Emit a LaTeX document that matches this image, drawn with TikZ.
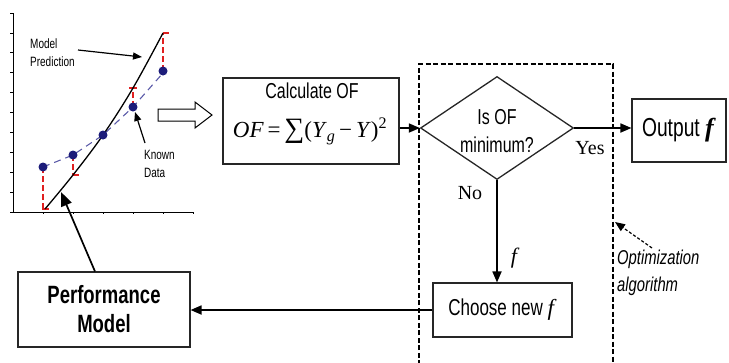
\documentclass[tikz,border=0pt]{standalone}
\usepackage{fontspec}
\setmainfont{Liberation Serif}
\newfontfamily\nsans[FakeStretch=0.74]{Liberation Sans}
\usetikzlibrary{arrows.meta,shapes.geometric}
\definecolor{dotblue}{HTML}{1C1C7A}
\definecolor{dashblue}{HTML}{5A5AA8}
\definecolor{redm}{HTML}{E02020}
\tikzset{
  boxnode/.style={draw=black!85,line width=1.1pt,inner sep=0pt,fill=white},
  conn/.style={line width=1.7pt,-{Triangle[length=11pt,width=9pt]}},
  thinarrow/.style={line width=1.2pt,-{Triangle[length=9pt,width=7pt]}},
  sanslbl/.style={font=\nsans\fontsize{21.6}{24}\selectfont,inner sep=0pt},
  smalllbl/.style={font=\nsans\fontsize{13.5}{15}\selectfont,inner sep=0pt,anchor=west},
  seriflbl/.style={font=\fontsize{20}{22}\selectfont,inner sep=0pt},
  datadot/.style={circle,fill=dotblue,inner sep=0pt,minimum size=9pt},
}
\begin{document}
\begin{tikzpicture}[x=1pt,y=-1pt]
\useasboundingbox (0,0) rectangle (729,362);
% ---------- plot ----------
\draw[line width=1pt] (13,13) -- (13,212) -- (193,212);
\foreach \yy in {13,32.9,...,212} \draw[line width=0.8pt] (10,\yy) -- (13,\yy);
\foreach \xx in {43,73,...,193} \draw[line width=0.8pt] (\xx,212) -- (\xx,214);
% red residuals
\draw[redm,line width=1.2pt,dash pattern=on 6pt off 3pt] (43,167) -- (43,209);
\draw[redm,line width=1.2pt] (42,209) -- (49,209);
\draw[redm,line width=1.2pt,dash pattern=on 6pt off 3pt] (73,155) -- (73,175);
\draw[redm,line width=1.2pt] (73,175) -- (79,175);
\draw[redm,line width=1.2pt,dash pattern=on 6pt off 3pt] (133,107) -- (133,88);
\draw[redm,line width=1.2pt] (129,88) -- (137,88);
\draw[redm,line width=1.2pt,dash pattern=on 6pt off 3pt] (163,71) -- (163,33);
\draw[redm,line width=1.2pt] (163,33) -- (169,33);
% known data dashed line
\draw[dashblue,line width=1.1pt,dash pattern=on 7pt off 5pt] (43,167) -- (73,155) -- (103,135) -- (133,107) -- (163,73);
% model curve
\draw[line width=1.3pt] plot[smooth,tension=0.6] coordinates {(45,209) (73,175) (103,135) (133,88) (163,33)};
% data dots
\foreach \px/\py in {43/167,73/155,103/135,133/107,163/71}
  \node[datadot] at (\px,\py) {};
% labels in plot
\node[smalllbl] (mp1) at (30,44) {Model};
\node[smalllbl] (mp2) at (30,62) {Prediction};
\coordinate (mpt) at (142,57);
\draw[thinarrow] (78,50) -- (mpt);
\node[smalllbl] (kd1) at (144,155) {Known};
\node[smalllbl] (kd2) at (144,173) {Data};
\coordinate (kdt) at (135,112);
\draw[thinarrow] (145,143) -- (kdt);
% hollow arrow
\draw[line width=1pt,fill=white] (158,109) -- (195,109) -- (195,102) -- (212,115) -- (195,128) -- (195,121) -- (158,121) -- cycle;
% ---------- flow ----------
\node[boxnode,minimum width=176pt,minimum height=86pt] (calc) at (311,121) {};
\node[sanslbl] at (312,91) {Calculate OF};
\node[inner sep=0pt,font=\fontsize{23}{27}\selectfont] at (310,131)
  {\textit{OF}\,=\,{\fontsize{28}{28}\selectfont ∑}(\textit{Y}\textsubscript{\textit{g}}\,−\,\textit{Y})\textsuperscript{2}};
\node[diamond,draw=black!85,line width=1.3pt,inner sep=0pt,minimum width=153pt,minimum height=103pt] (dia) at (497,128) {};
\node[sanslbl] at (497,117) {Is OF};
\node[sanslbl] at (497,145) {minimum?};
\node[boxnode,minimum width=94pt,minimum height=63pt,font=\nsans\fontsize{26}{28}\selectfont] (out) at (679,130.5) {Output \textbf{\textit{\rmfamily f}}};
\node[boxnode,minimum width=139pt,minimum height=54pt,font=\nsans\fontsize{23}{25}\selectfont] (choose) at (502.5,310) {Choose new \textit{\rmfamily f}};
\node[boxnode,minimum width=172pt,minimum height=75pt,align=center,font=\nsans\bfseries\fontsize{25}{29}\selectfont] (perf) at (104,309.5) {Performance\\Model};
% dashed optimization frame
\draw[line width=1.1pt,dash pattern=on 5pt off 2.5pt] (419,365) -- (419,64) -- (613,64) -- (613,365);
% connectors
\draw[conn] (dia.west -| calc.east) -- (dia.west);
\draw[conn] (dia.east) -- (out.west |- dia.east);
\draw[conn] (dia.south) -- (choose.north -| dia.south);
\draw[conn] (choose.west) -- (perf.east |- choose.west);
\coordinate (pmt) at (61,192);
\draw[line width=1.7pt,-{Triangle[length=14pt,width=11pt]}] ([xshift=-9pt]perf.north) -- (pmt);
% labels
\node[seriflbl] at (590,148) {Yes};
\node[seriflbl] at (470,193) {No};
\node[inner sep=0pt,font=\fontsize{22}{24}\selectfont\itshape] at (514,258) {f};
\node[anchor=west,inner sep=0pt,align=left,font=\nsans\itshape\fontsize{20}{27}\selectfont] (opt) at (617,273) {Optimization\\algorithm};
\coordinate (optt) at (615,222);
\draw[line width=1.2pt,dash pattern=on 3pt off 2pt,-{Triangle[length=10pt,width=8pt]}] (652,248) -- (optt);
\end{tikzpicture}
\end{document}
